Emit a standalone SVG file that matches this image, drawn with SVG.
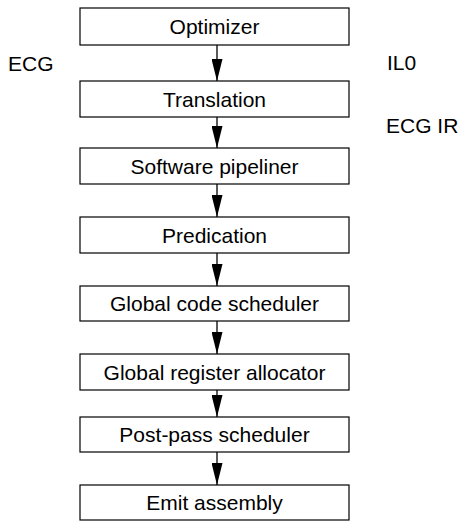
<svg xmlns="http://www.w3.org/2000/svg" width="461" height="523" viewBox="0 0 461 523">
<defs>
<style>
.box{fill:#fff;stroke:#000;stroke-width:1.2}
.t{font-family:"Liberation Sans",Arial,sans-serif;font-size:21px;fill:#000;text-anchor:middle}
.l{font-family:"Liberation Sans",Arial,sans-serif;font-size:21px;fill:#000}
.c{stroke:#000;stroke-width:1.3;fill:none}
</style>
<marker id="ah" markerWidth="22" markerHeight="11" refX="22" refY="5.5" orient="auto" markerUnits="userSpaceOnUse" viewBox="0 0 22 11">
<path d="M0,0 L22,5.5 L0,11 Z" fill="#000"/>
</marker>
</defs>
<rect width="461" height="523" fill="#fff"/>
<g id="connectors">
<line class="c" x1="217" y1="45" x2="217" y2="81" marker-end="url(#ah)"/>
<line class="c" x1="217" y1="117" x2="217" y2="148" marker-end="url(#ah)"/>
<line class="c" x1="217" y1="184" x2="217" y2="217" marker-end="url(#ah)"/>
<line class="c" x1="217" y1="253" x2="217" y2="286" marker-end="url(#ah)"/>
<line class="c" x1="217" y1="321" x2="217" y2="354" marker-end="url(#ah)"/>
<line class="c" x1="217" y1="390" x2="217" y2="417" marker-end="url(#ah)"/>
<line class="c" x1="217" y1="452" x2="217" y2="485" marker-end="url(#ah)"/>
</g>
<g id="optimizer"><rect class="box" x="80" y="8" width="269" height="37"/><text class="t" x="214.5" y="34">Optimizer</text></g>
<g id="translation"><rect class="box" x="80" y="81" width="269" height="36"/><text class="t" x="214.5" y="106.5">Translation</text></g>
<g id="swp"><rect class="box" x="80" y="148" width="269" height="36"/><text class="t" x="214.5" y="173.5">Software pipeliner</text></g>
<g id="predication"><rect class="box" x="80" y="217" width="269" height="36"/><text class="t" x="214.5" y="242.5">Predication</text></g>
<g id="gcs"><rect class="box" x="80" y="286" width="269" height="35"/><text class="t" x="214.5" y="311">Global code scheduler</text></g>
<g id="gra"><rect class="box" x="80" y="354" width="269" height="36"/><text class="t" x="214.5" y="379.5">Global register allocator</text></g>
<g id="pps"><rect class="box" x="80" y="417" width="269" height="35"/><text class="t" x="214.5" y="442">Post-pass scheduler</text></g>
<g id="emit"><rect class="box" x="80" y="485" width="269" height="35"/><text class="t" x="214.5" y="510">Emit assembly</text></g>
<g id="labels">
<text class="l" x="8" y="71">ECG</text>
<text class="l" x="387" y="70">IL0</text>
<text class="l" x="386" y="133">ECG IR</text>
</g>
</svg>
